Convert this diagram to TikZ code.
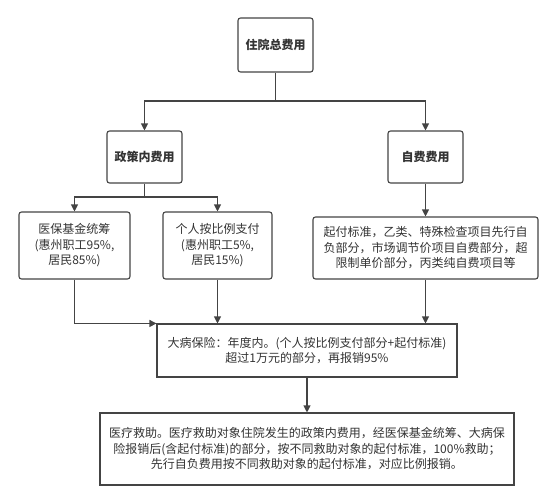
\documentclass[tikz,border=0pt]{standalone}
\usepackage{fontspec}
\setmainfont{Noto Sans CJK SC}
\usetikzlibrary{arrows.meta}

\definecolor{linegray}{HTML}{444444}
\definecolor{textgray}{HTML}{333333}

\tikzset{
  box/.style={draw=linegray,line width=1.1pt,align=center,inner sep=0pt,
    text=textgray,font=\fontsize{12}{15.5}\selectfont},
  roundbox/.style={box,rounded corners=2.5pt},
  headbox/.style={roundbox,font=\fontsize{12}{15.5}\selectfont\bfseries},
  link/.style={draw=linegray,line width=1.1pt,-{Triangle[length=7pt,width=7pt]}},
}

\begin{document}
\begin{tikzpicture}[x=1pt,y=-1pt]
\useasboundingbox (0,0) rectangle (558,504);

% Top level
\node[headbox,minimum width=75pt,minimum height=54pt] (total) at (275.5,45) {住院总费用};

% Second level
\node[headbox,minimum width=75pt,minimum height=52pt] (policy) at (144.5,157) {政策内费用};
\node[headbox,minimum width=75pt,minimum height=52pt] (self) at (425.5,157) {自费费用};

% Third level
\node[roundbox,minimum width=111pt,minimum height=67pt] (fund) at (74.5,245.5)
  {医保基金统筹\\(惠州职工95\%,\\居民85\%)};
\node[roundbox,minimum width=109pt,minimum height=67pt] (personal) at (217.5,245.5)
  {个人按比例支付\\(惠州职工5\%,\\居民15\%)};
\node[roundbox,minimum width=225pt,minimum height=62pt] (selfitems) at (425.5,248)
  {起付标准，乙类、特殊检查项目先行自\\负部分，市场调节价项目自费部分，超\\限制单价部分，丙类纯自费项目等};

% Serious illness insurance
\node[box,minimum width=300pt,minimum height=53pt] (serious) at (307,350.5)
  {大病保险：年度内。(个人按比例支付部分+起付标准)\\超过1万元的部分，再报销95\%};

% Medical aid
\node[box,minimum width=414pt,minimum height=72pt] (aid) at (307,449)
  {医疗救助。医疗救助对象住院发生的政策内费用，经医保基金统筹、大病保\\险报销后(含起付标准)的部分，按不同救助对象的起付标准，100\%救助；\\先行自负费用按不同救助对象的起付标准，对应比例报销。};

% Split points
\coordinate (split1) at (275.5,101);
\coordinate (split2) at (144.5,197);

% Connectors
\draw[link] (total.south) -- (split1) -| (policy.north);
\draw[link] (split1) -| (self.north);
\draw[link] (policy.south) -- (split2) -| (fund.north);
\draw[link] (split2) -| (personal.north);
\draw[link] (self.south) -- (selfitems.north);
\draw[link] (fund.south) |- (serious.north west);
\draw[link] (personal.south) -- (personal.south |- serious.north);
\draw[link] (selfitems.south) -- (selfitems.south |- serious.north);
\draw[link] (serious.south) -- (aid.north);
\end{tikzpicture}
\end{document}
